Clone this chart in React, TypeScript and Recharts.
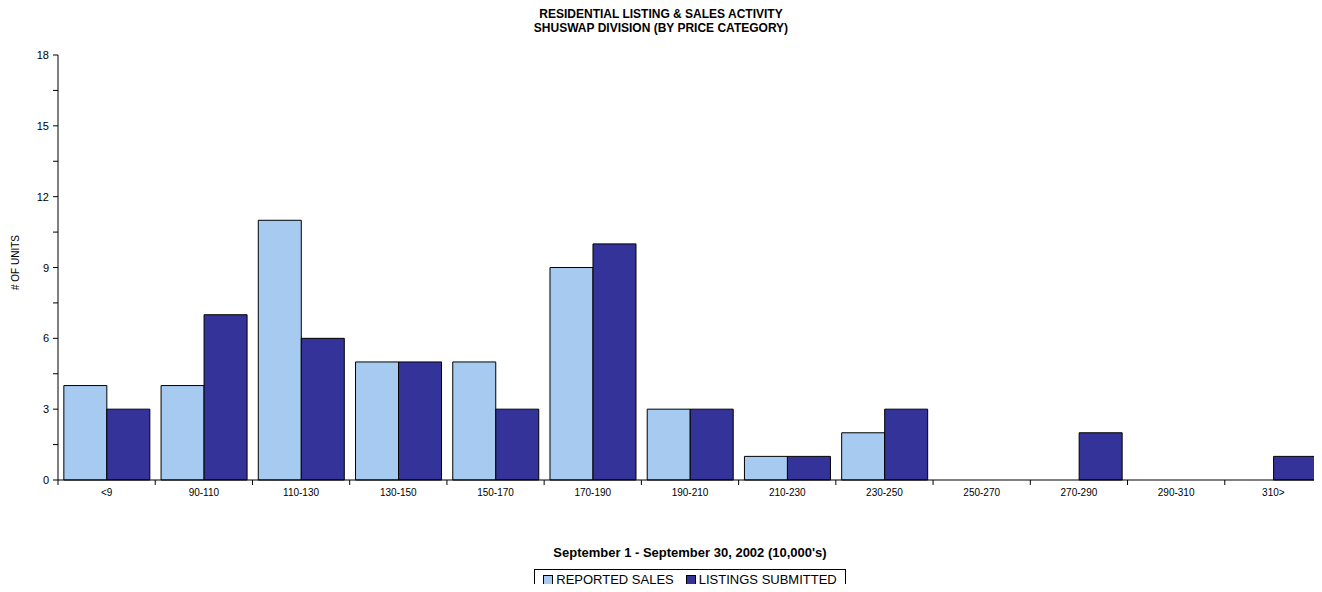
import React from 'react';
import { BarChart, Bar, XAxis, YAxis } from 'recharts';

const categories = ['<9', '90-110', '110-130', '130-150', '150-170', '170-190', '190-210', '210-230', '230-250', '250-270', '270-290', '290-310', '310>'];
const reportedSales = [4, 4, 11, 5, 5, 9, 3, 1, 2, 0, 0, 0, 0];
const listingsSubmitted = [3, 7, 6, 5, 3, 10, 3, 1, 3, 0, 2, 0, 1];
const yTicks = [0, 1.5, 3, 4.5, 6, 7.5, 9, 10.5, 12, 13.5, 15, 16.5, 18];

const data = categories.map((name, i) => ({
  name,
  sales: reportedSales[i],
  listings: listingsSubmitted[i],
}));

const font = '"Liberation Sans", Arial, sans-serif';
const BAND = 1264 / categories.length;

const XTick = (props: any) => {
  const { x, y, payload, index } = props;
  return (
    <g>
      <line x1={x - BAND / 2} x2={x - BAND / 2} y1={y - 8} y2={y - 3} stroke="#000" />
      {index === categories.length - 1 && (
        <line x1={x + BAND / 2} x2={x + BAND / 2} y1={y - 8} y2={y - 3} stroke="#000" />
      )}
      <text x={x} y={y + 8} textAnchor="middle" fontSize={10} fontFamily={font} fill="#000">
        {payload.value}
      </text>
    </g>
  );
};

const YTick = (props: any) => {
  const { x, y, payload } = props;
  if (payload.value % 3 !== 0) return <g />;
  return (
    <text x={x - 2} y={y + 4} textAnchor="end" fontSize={11} fontFamily={font} fill="#000">
      {payload.value}
    </text>
  );
};

export default function App() {
  return (
    <div style={{ position: 'relative', width: 1322, height: 592, margin: -8, background: '#fff', fontFamily: font, overflow: 'hidden' }}>
      <div style={{ position: 'absolute', top: 7, left: 0, width: 1322, textAlign: 'center', fontWeight: 'bold', fontSize: 12, lineHeight: '14px' }}>
        RESIDENTIAL LISTING &amp; SALES ACTIVITY<br />SHUSWAP DIVISION (BY PRICE CATEGORY)
      </div>
      <div style={{ position: 'absolute', top: 545, left: 58, width: 1264, textAlign: 'center', fontWeight: 'bold', fontSize: 13 }}>
        September 1 - September 30, 2002 (10,000's)
      </div>
      <div style={{ position: 'absolute', left: 10, top: 290, transform: 'rotate(-90deg)', transformOrigin: 'left top', fontSize: 10, whiteSpace: 'nowrap' }}>
        # OF UNITS
      </div>
      <div style={{ position: 'absolute', top: 569, left: 58, width: 1264, display: 'flex', justifyContent: 'center' }}>
        <div style={{ border: '1px solid #000', padding: '2px 8px 6px', fontSize: 13, display: 'flex', gap: 12, alignItems: 'center' }}>
          <span style={{ display: 'flex', alignItems: 'center', gap: 3 }}>
            <span style={{ width: 8, height: 8, background: '#A6CAF0', border: '1px solid #000' }} />REPORTED SALES
          </span>
          <span style={{ display: 'flex', alignItems: 'center', gap: 3 }}>
            <span style={{ width: 8, height: 8, background: '#333399', border: '1px solid #000' }} />LISTINGS SUBMITTED
          </span>
        </div>
      </div>
      <BarChart width={1322} height={592} data={data} margin={{ top: 55, right: 0, left: 8, bottom: 0 }} barGap={0} barCategoryGap="6%">
        <XAxis dataKey="name" interval={0} tickLine={false} axisLine={{ stroke: '#000' }} tick={<XTick />} height={112} />
        <YAxis domain={[0, 18]} ticks={yTicks} interval={0} width={50} axisLine={{ stroke: '#000' }} tickLine={{ stroke: '#000' }} tickSize={5} tick={<YTick />} />
        <Bar dataKey="sales" fill="#A6CAF0" stroke="#000" strokeWidth={1} isAnimationActive={false} />
        <Bar dataKey="listings" fill="#333399" stroke="#000" strokeWidth={1} isAnimationActive={false} />
      </BarChart>
    </div>
  );
}
